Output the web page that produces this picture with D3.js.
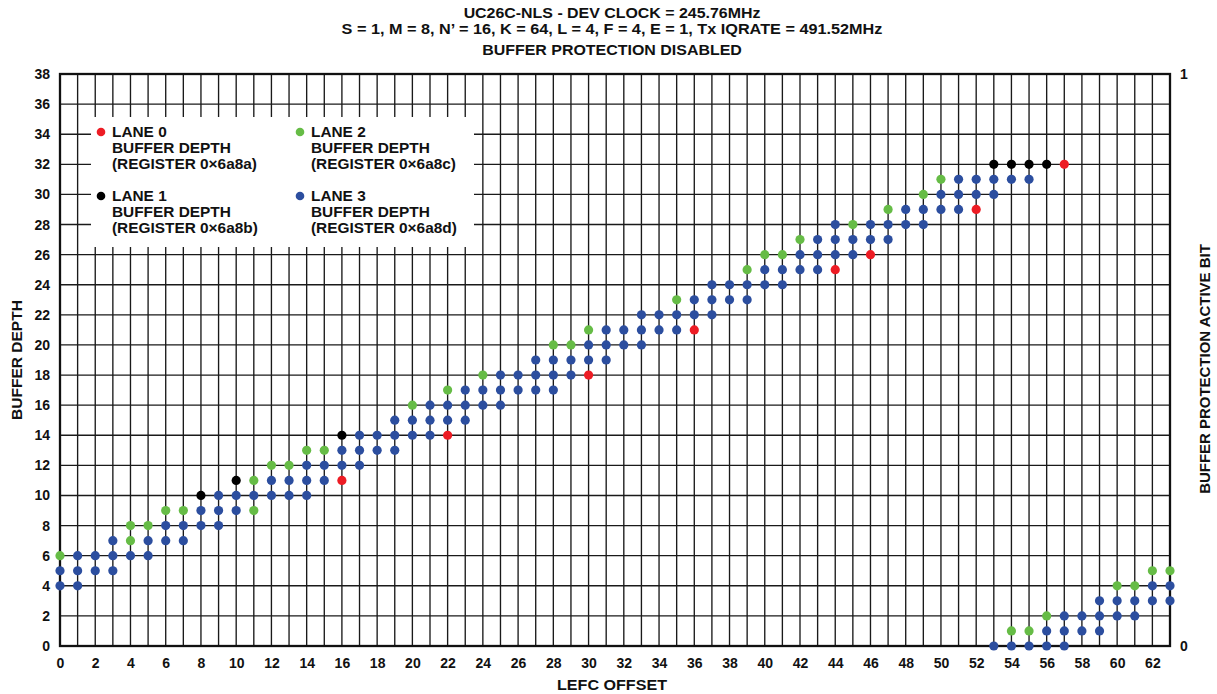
<!DOCTYPE html>
<html>
<head>
<meta charset="utf-8">
<script src="https://cdn.jsdelivr.net/npm/d3@7"></script>
<style>
  html, body { margin: 0; padding: 0; background: #fff; }
  svg text { font-family: "Liberation Sans", Arial, sans-serif; font-weight: bold; fill: #111; }
</style>
</head>
<body>
<svg id="chart" width="1217" height="694"></svg>
<script>
// ---------- DATA ----------
const titleLines = [
  "UC26C-NLS - DEV CLOCK = 245.76MHz",
  "S = 1, M = 8, N\u2019 = 16, K = 64, L = 4, F = 4, E = 1, Tx IQRATE = 491.52MHz",
  "BUFFER PROTECTION DISABLED"
];
const xTicks = d3.range(0, 63, 2);          // 0..62 labels
const yTicks = d3.range(0, 39, 2);          // 0..38 labels
const xGrid = d3.range(1, 63, 1);           // vertical grid lines
const rightTicks = [0, 1];

const laneNames = ["LANE 0", "LANE 1", "LANE 2", "LANE 3"];
const laneRegs = ["(REGISTER 0\u00d76a8a)", "(REGISTER 0\u00d76a8b)", "(REGISTER 0\u00d76a8c)", "(REGISTER 0\u00d76a8d)"];
const laneColors = ["#ED1C24", "#000000", "#66BC46", "#2C4E9F"];

// Lane 0 (red) visible points [offset, depth]
const lane0 = [[16,11],[22,14],[30,18],[36,21],[44,25],[46,26],[52,29],[57,32]];
// Lane 1 (black)
const lane1 = [[8,10],[10,11],[16,14],[53,32],[54,32],[55,32],[56,32]];
// Lane 2 (green)
const lane2 = [[0,6],[4,7],[4,8],[5,8],[6,9],[7,9],[11,9],[11,11],[12,12],[13,12],[14,13],[15,13],
  [20,16],[22,17],[24,18],[28,20],[29,20],[30,21],[35,23],[39,25],[40,26],[41,26],[42,27],[45,28],
  [47,29],[49,30],[50,31],[54,1],[55,1],[56,2],[60,4],[61,4],[62,5],[63,5]];
// Lane 3 (blue)
const lane3 = [[0,4],[0,5],[1,4],[1,5],[1,6],[2,5],[2,6],[3,5],[3,6],[3,7],[4,6],[5,6],[5,7],
  [6,7],[6,8],[7,7],[7,8],[8,8],[8,9],[9,8],[9,9],[9,10],[10,9],[10,10],[11,10],[12,10],[12,11],
  [13,10],[13,11],[14,10],[14,11],[14,12],[15,11],[15,12],[16,12],[16,13],[17,12],[17,13],[17,14],
  [18,13],[18,14],[19,13],[19,14],[19,15],[20,14],[20,15],[21,14],[21,15],[21,16],[22,15],[22,16],
  [23,15],[23,16],[23,17],[24,16],[24,17],[25,16],[25,17],[25,18],[26,17],[26,18],[27,17],[27,18],[27,19],
  [28,17],[28,18],[28,19],[29,18],[29,19],[30,19],[30,20],[31,19],[31,20],[31,21],[32,20],[32,21],
  [33,20],[33,21],[33,22],[34,21],[34,22],[35,21],[35,22],[36,22],[36,23],[37,22],[37,23],[37,24],
  [38,23],[38,24],[39,23],[39,24],[40,24],[40,25],[41,24],[41,25],[42,25],[42,26],[43,25],[43,26],[43,27],
  [44,26],[44,27],[44,28],[45,26],[45,27],[46,27],[46,28],[47,27],[47,28],[48,28],[48,29],[49,28],[49,29],
  [50,29],[50,30],[51,29],[51,30],[51,31],[52,30],[52,31],[53,30],[53,31],[53,0],[54,31],[54,0],
  [55,31],[55,0],[56,0],[56,1],[57,0],[57,1],[57,2],[58,1],[58,2],[59,1],[59,2],[59,3],
  [60,2],[60,3],[61,2],[61,3],[62,3],[62,4],[63,3],[63,4]];
const lanes = [lane0, lane1, lane2, lane3];

// ---------- LAYOUT ----------
const svg = d3.select("#chart");
const m = { left: 60, right: 1170, top: 74, bottom: 646 };
const x = d3.scaleLinear().domain([0, 63]).range([m.left, m.right]);
const y = d3.scaleLinear().domain([0, 38]).range([m.bottom, m.top]);
const yR = d3.scaleLinear().domain([0, 1]).range([m.bottom, m.top]);
const SX = 1.1; // horizontal stretch of lettering

function stext(g, tx, ty, str, size, anchor) {
  return g.append("text")
    .attr("transform", `translate(${tx},${ty}) scale(${SX},1)`)
    .attr("text-anchor", anchor || "start")
    .style("font-size", size + "px")
    .text(str);
}
// text fitted to a measured target width (rotation optional)
function ftext(g, tx, ty, str, size, width, rot) {
  const t = g.append("text").attr("text-anchor", "middle").style("font-size", size + "px").text(str);
  const k = width / t.node().getComputedTextLength();
  t.attr("transform", `translate(${tx},${ty})${rot ? " rotate(" + rot + ")" : ""} scale(${k},1)`);
  return t;
}

svg.append("rect").attr("width", 1217).attr("height", 694).attr("fill", "#fff");

// Titles
const tY = [18, 34, 55];
const tW = [297, 541, 260];
titleLines.forEach((t, i) => ftext(svg, 612, tY[i], t, 14, tW[i]));

// Grid
const grid = svg.append("g").attr("stroke", "#1a1a1a").attr("stroke-width", 1.35);
grid.selectAll("line.v").data(xGrid).join("line")
  .attr("x1", d => x(d)).attr("x2", d => x(d))
  .attr("y1", m.top).attr("y2", m.bottom);
grid.selectAll("line.h").data(yTicks.filter(d => d > 0 && d < 38)).join("line")
  .attr("x1", m.left).attr("x2", m.right)
  .attr("y1", d => y(d)).attr("y2", d => y(d));

// Legend box (white, covers grid)
svg.append("rect").attr("x", 91).attr("y", 117).attr("width", 383).attr("height", 130).attr("fill", "#fff");

// Plot frame
svg.append("rect").attr("x", m.left).attr("y", m.top)
  .attr("width", m.right - m.left).attr("height", m.bottom - m.top)
  .attr("fill", "none").attr("stroke", "#111").attr("stroke-width", 2.3);

// Axes via d3 (labels only)
const xAxis = svg.append("g").attr("transform", `translate(0,${m.bottom})`)
  .call(d3.axisBottom(x).tickValues(xTicks).tickSize(0).tickPadding(10).tickFormat(d3.format("d")));
const yAxis = svg.append("g").attr("transform", `translate(${m.left},0)`)
  .call(d3.axisLeft(y).tickValues(yTicks).tickSize(0).tickPadding(10).tickFormat(d3.format("d")));
const rAxis = svg.append("g").attr("transform", `translate(${m.right},0)`)
  .call(d3.axisRight(yR).tickValues(rightTicks).tickSize(0).tickPadding(10).tickFormat(d3.format("d")));
[xAxis, yAxis, rAxis].forEach(a => {
  a.select(".domain").remove();
  a.selectAll("text").style("font-size", "14px")
    .style("font-family", "'Liberation Sans', Arial, sans-serif").style("font-weight", "bold").attr("fill", "#111");
});
xAxis.selectAll("text").attr("dy", "0.85em");

// Axis titles
ftext(svg, 612, 690, "LEFC OFFSET", 14, 110);
ftext(svg, 22, 360, "BUFFER DEPTH", 14, 120, -90);
ftext(svg, 1210, 369, "BUFFER PROTECTION ACTIVE BIT", 14, 250, -90);

// Points
lanes.forEach((pts, i) => {
  svg.append("g").selectAll("circle").data(pts).join("circle")
    .attr("cx", d => x(d[0])).attr("cy", d => y(d[1])).attr("r", 4.6)
    .attr("fill", laneColors[i]);
});

// Legend entries
const legPos = [[101, 132], [101, 196], [300, 132], [300, 196]];
laneNames.forEach((n, i) => {
  const [lx, ly] = legPos[i];
  const g = svg.append("g");
  g.append("circle").attr("cx", lx).attr("cy", ly).attr("r", 4.3).attr("fill", laneColors[i]);
  stext(g, lx + 11, ly + 5, n, 14, "start");
  stext(g, lx + 11, ly + 21, "BUFFER DEPTH", 14, "start");
  stext(g, lx + 11, ly + 37, laneRegs[i], 14, "start");
});
</script>
</body>
</html>
